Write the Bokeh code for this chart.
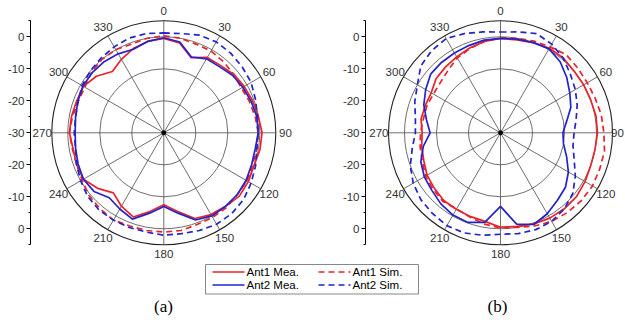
import numpy as np
from bokeh.plotting import figure
from bokeh.models import Range1d, LinearAxis, FixedTicker
from bokeh.core.properties import value
from bokeh.embed import file_html
from bokeh.resources import INLINE

# ---------------- data (gain in dB vs azimuth angle in degrees) ----------------
angles = list(range(0, 360, 10))

a_ant1_mea = [-0.5, -1.5, -5.0, -2.8, -2.5, -1.5, -1.0, -0.5, 0.0, 0.7, 0.5, 0.0,
              0.5, 0.8, 0.0, -0.5, -1.5, -5.0, -7.5, -5.0, -2.0, -3.5, -5.5, -3.0,
              -1.0, -1.0, -1.2, -0.5, -0.7, -1.0, -1.0, -2.5, -5.0, -3.5, -2.0, -1.0]
a_ant1_sim = [0.3, 0.0, -0.5, -0.5, -1.0, -1.5, -2.0, -1.5, -1.0, -0.5, -0.5, -0.5,
              0.0, 0.0, 0.5, 0.5, 0.5, 1.0, 1.0, 1.0, 1.0, 1.5, 1.0, 0.5,
              -0.5, -1.0, -1.0, -0.5, -1.0, -1.5, -1.5, -0.5, 0.0, 0.0, -0.5, 0.0]
a_ant2_mea = [-0.3, -1.2, -4.8, -3.3, -3.0, -2.0, -1.5, -1.0, -0.5, -0.5, -1.0, -0.8,
              -0.3, 0.0, 0.0, 0.0, -1.0, -4.5, -7.0, -4.5, -1.3, -2.5, -3.5, -1.5,
              -1.0, -1.5, -2.0, -2.3, -2.0, -1.4, -0.8, -0.8, -1.0, -1.5, -2.2, -1.0]
a_ant2_sim = [1.2, 1.5, 2.5, 2.8, 2.5, 2.0, 1.5, 0.5, -0.3, -0.5, -0.5, 0.5,
              1.5, 2.5, 3.0, 3.0, 2.5, 2.0, 2.0, 1.5, 1.5, 1.5, 1.5, 1.0,
              0.0, -1.0, -2.0, -2.0, -2.0, -1.5, -0.5, 0.0, 0.5, 1.0, 1.5, 1.5]

b_ant1_mea = [-0.5, -0.5, 0.0, 0.5, 0.5, 0.0, 0.0, 0.0, 0.3, 0.3, 0.0, 0.0,
              0.5, 1.0, 1.0, 0.8, 0.3, -0.3, -0.5, -1.9, -2.2, -2.4, -2.4, -3.0,
              -3.5, -4.5, -5.0, -5.5, -4.8, -5.0, -5.0, -3.7, -3.2, -2.6, -1.8, -1.0]
b_ant1_sim = [-0.3, 0.0, 0.5, 1.0, 1.9, 1.5, 1.3, 1.5, 2.0, 2.3, 3.0, 3.0,
              3.2, 3.0, 2.5, 2.0, 1.0, 0.0, -0.3, -1.0, -2.0, -2.5, -2.0, -2.5,
              -3.0, -4.0, -4.5, -5.0, -5.5, -5.5, -5.8, -5.5, -4.5, -3.0, -2.0, -1.0]
b_ant2_mea = [-0.5, -0.3, 0.0, 0.3, -1.0, -3.0, -5.0, -6.6, -9.0, -10.5, -10.0, -8.0,
              -5.5, -3.5, -2.4, -0.8, 0.5, -1.0, -7.0, -1.6, -0.2, -0.3, -1.0, -2.0,
              -2.5, -3.5, -5.5, -8.0, -6.5, -4.5, -3.0, -1.5, -1.3, -1.2, -1.0, -0.6]
b_ant2_sim = [1.5, 2.0, 3.0, 2.0, 0.5, -1.5, -3.0, -4.5, -6.0, -7.0, -7.0, -5.5,
              -3.0, -0.5, 1.0, 2.0, 2.2, 2.0, 1.7, 2.5, 3.3, 3.5, 3.0, 2.5,
              1.5, 0.0, -2.0, -3.4, -3.0, -1.5, 0.0, 2.5, 3.5, 4.0, 3.0, 2.0]

angle_ticks = list(range(0, 360, 30))
angle_labels = [str(a) for a in angle_ticks]
radial_ticks = [-30, -20, -10, 0, 10, 20, 30]          # radius units (dB + 30)
radial_labels = ["0", "-10", "-20", "-30", "-20", "-10", "0"]
ring_db = [-20, -10, 0, 5]

legend_labels = ["Ant1 Mea.", "Ant1 Sim.", "Ant2 Mea.", "Ant2 Sim."]
panel_labels = ["(a)", "(b)"]

# ---------------- layout / style ----------------
W, H = 625, 322
PX = 3.2          # pixels per dB
CY = 132.3
FLOOR = -30.0
RED = "#e8232b"
BLUE = "#2323cc"
GRID = "#4a4a4a"
TXT = "#333333"
FONT = "Liberation Sans"

p = figure(width=W, height=H, x_range=Range1d(0, W), y_range=Range1d(H, 0),
           output_backend="svg", toolbar_location=None, min_border=0,
           x_axis_type=None, y_axis_type=None, outline_line_color=None,
           background_fill_color="white", border_fill_color="white")

panels = [
    ("a", 163.3, 30.0, [a_ant1_mea, a_ant1_sim, a_ant2_mea, a_ant2_sim]),
    ("b", 500.0, 365.0, [b_ant1_mea, b_ant1_sim, b_ant2_mea, b_ant2_sim]),
]
p.extra_y_ranges = {"r": Range1d(-(H - CY) / PX, CY / PX)}
for name, cx, _, _ in panels:
    p.extra_x_ranges[name] = Range1d(-cx / PX, (W - cx) / PX)

styles = [(RED, "solid"), (RED, "6 4"), (BLUE, "solid"), (BLUE, "6 4")]

def polar(th_deg, rr):
    th = np.radians(np.asarray(th_deg, dtype=float))
    rr = np.asarray(rr, dtype=float)
    return rr * np.sin(th), rr * np.cos(th)

for name, cx, axis_px, series in panels:
    kw = dict(x_range_name=name, y_range_name="r")
    rmax = 5 - FLOOR
    # rings
    for d in ring_db:
        p.circle(x=[0], y=[0], radius=d - FLOOR, fill_color=None,
                 line_color="#222222" if d == 5 else GRID,
                 line_width=1.1 if d == 5 else 0.8, **kw)
    # spokes
    sx, sy = polar(angle_ticks, [rmax] * len(angle_ticks))
    p.segment(x0=[0] * len(sx), y0=[0] * len(sy), x1=sx, y1=sy,
              line_color=GRID, line_width=0.8, **kw)
    p.scatter(x=[0], y=[0], size=4, color="black", **kw)
    # curves
    th_closed = angles + [360]
    for vals, (col, dash) in zip(series, styles):
        r = [v - FLOOR for v in vals + [vals[0]]]
        xx, yy = polar(th_closed, r)
        p.line(xx, yy, line_color=col, line_dash=dash, line_width=1.7, **kw)
    # angle labels (kept inside the canvas)
    lx, ly = polar(angle_ticks, [rmax + 3.0] * len(angle_ticks))
    right_limit = (W - 8 - cx) / PX
    lx = np.minimum(lx, right_limit)
    p.text(x=lx, y=ly, text=angle_labels, text_align="center", text_baseline="middle",
           text_font=value(FONT), text_font_size="11.5px", text_color=TXT, **kw)
    # radial axis
    ax = LinearAxis(x_range_name=name, y_range_name="r",
                    fixed_location=(axis_px - cx) / PX, bounds=(-35, 35),
                    ticker=FixedTicker(ticks=radial_ticks,
                                       minor_ticks=[-35, -25, -15, -5, 5, 15, 25, 35]),
                    major_label_overrides={t: l for t, l in zip(radial_ticks, radial_labels)},
                    axis_line_color="black", axis_line_width=1,
                    major_tick_out=4, major_tick_in=0, minor_tick_out=2, minor_tick_in=0,
                    major_tick_line_color="black", minor_tick_line_color="black",
                    major_label_text_font=FONT, major_label_text_font_size="11.5px",
                    major_label_text_color=TXT, major_label_standoff=2)
    p.add_layout(ax, "left")

# ---------------- legend (pixel coordinates) ----------------
p.quad(left=[205], right=[418], top=[264], bottom=[293.5], fill_color="white",
       line_color="#888888", line_width=1)
col_x = [212, 318]
row_y = [271.5, 284.5]
for i, (lab, (col, dash)) in enumerate(zip(legend_labels, styles)):
    r_, c_ = i // 2, i % 2
    x0 = col_x[c_]
    p.line([x0, x0 + 32], [row_y[r_], row_y[r_]], line_color=col, line_dash=dash, line_width=1.7)
    p.text(x=[x0 + 34], y=[row_y[r_]], text=[lab], text_align="left", text_baseline="middle",
           text_font=value(FONT), text_font_size="11.5px", text_color="black")

p.text(x=[163, 497], y=[306, 306], text=panel_labels, text_align="center",
       text_baseline="middle", text_font=value("Liberation Serif"),
       text_font_size="17px", text_color="black")

open("out.html", "w").write(file_html(p, INLINE))
